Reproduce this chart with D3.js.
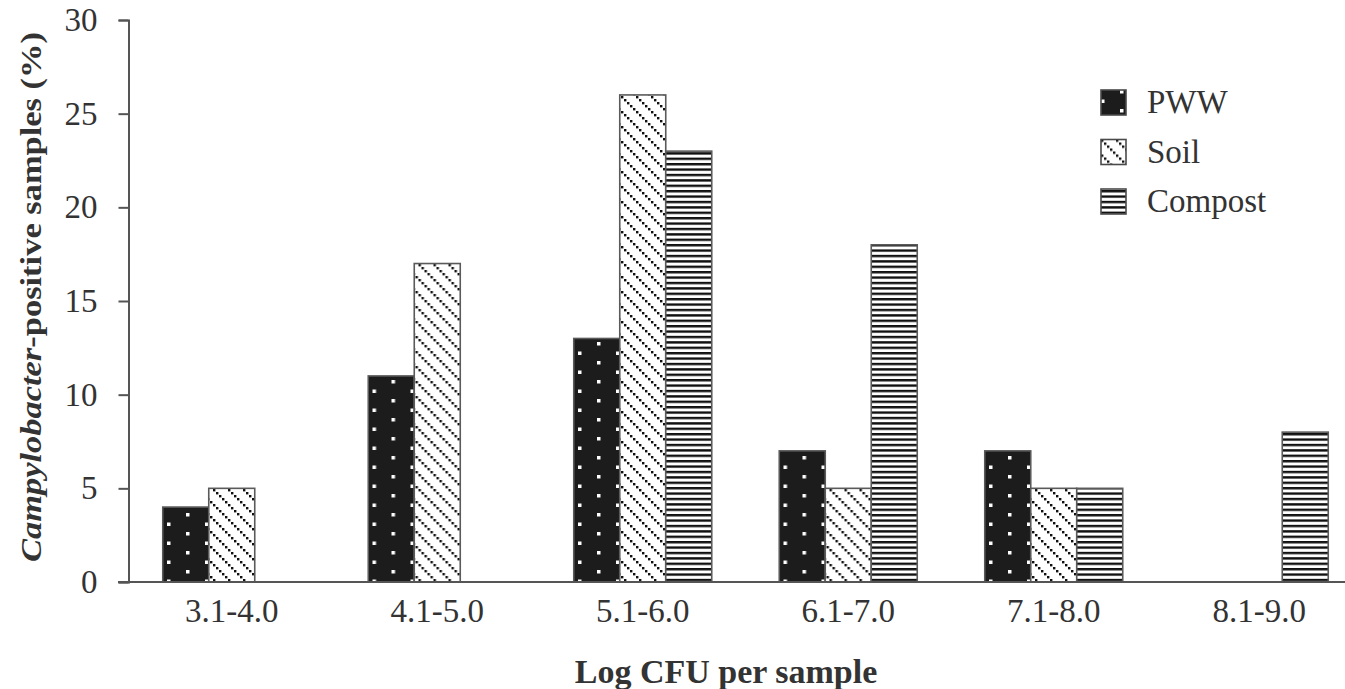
<!DOCTYPE html>
<html>
<head>
<meta charset="utf-8">
<script src="https://cdn.jsdelivr.net/npm/d3@7"></script>
<style>
  body { margin: 0; background: #fff; }
  text { font-family: "Liberation Serif", "Times New Roman", serif; fill: #333; }
</style>
</head>
<body>
<div id="chart"></div>
<script>
const categories = ["3.1-4.0", "4.1-5.0", "5.1-6.0", "6.1-7.0", "7.1-8.0", "8.1-9.0"];
const seriesNames = ["PWW", "Soil", "Compost"];
const pwwValues = [4, 11, 13, 7, 7, 0];
const soilValues = [5, 17, 26, 5, 5, 0];
const compostValues = [0, 0, 23, 18, 5, 8];
const yTicks = [0, 5, 10, 15, 20, 25, 30];

const width = 1345;
const height = 689;
const margin = { top: 20, right: 0, bottom: 107, left: 129 };

const svg = d3.select("#chart")
    .append("svg")
    .attr("width", width)
    .attr("height", height);

// patterns for the three series
const defs = svg.append("defs");

const pww = defs.append("pattern")
    .attr("id", "pat-pww")
    .attr("patternUnits", "userSpaceOnUse")
    .attr("x", 171).attr("y", 0)
    .attr("width", 38).attr("height", 19);
pww.append("rect").attr("width", 38).attr("height", 19).attr("fill", "#1c1c1c");
pww.append("rect").attr("x", 0).attr("y", 0).attr("width", 3.5).attr("height", 3.5).attr("fill", "#fff");
pww.append("rect").attr("x", 19).attr("y", 9.5).attr("width", 3.5).attr("height", 3.5).attr("fill", "#fff");

const soil = defs.append("pattern")
    .attr("id", "pat-soil")
    .attr("patternUnits", "userSpaceOnUse")
    .attr("width", 15).attr("height", 15);
soil.append("rect").attr("width", 15).attr("height", 15).attr("fill", "#fff");
[0, 3, 6, 9, 12].forEach(o => {
    soil.append("rect").attr("x", o).attr("y", o).attr("width", 2.4).attr("height", 2.4).attr("fill", "#111");
});

const compost = defs.append("pattern")
    .attr("id", "pat-compost")
    .attr("patternUnits", "userSpaceOnUse")
    .attr("y", 1)
    .attr("width", 10).attr("height", 5.4);
compost.append("rect").attr("width", 10).attr("height", 5.4).attr("fill", "#fff");
compost.append("rect").attr("y", 0).attr("width", 10).attr("height", 2.4).attr("fill", "#111");

const fills = { PWW: "url(#pat-pww)", Soil: "url(#pat-soil)", Compost: "url(#pat-compost)" };

const data = categories.map((c, i) => ({
    cat: c,
    values: [
        { key: "PWW", value: pwwValues[i] },
        { key: "Soil", value: soilValues[i] },
        { key: "Compost", value: compostValues[i] }
    ]
}));

const x0 = d3.scaleBand()
    .domain(categories)
    .range([margin.left, margin.left + 6 * 205.5])
    .padding(0);

const x1 = d3.scaleBand()
    .domain(seriesNames)
    .range([0, x0.bandwidth()])
    .paddingInner(0)
    .paddingOuter(0.734);

const y = d3.scaleLinear()
    .domain([0, 30])
    .range([height - margin.bottom, margin.top]);

// bars
const groups = svg.append("g")
    .selectAll("g")
    .data(data)
    .join("g")
    .attr("transform", d => `translate(${x0(d.cat)},0)`);

groups.selectAll("rect")
    .data(d => d.values.filter(v => v.value > 0))
    .join("rect")
    .attr("x", d => x1(d.key))
    .attr("y", d => y(d.value))
    .attr("width", x1.bandwidth())
    .attr("height", d => y(0) - y(d.value))
    .attr("fill", d => fills[d.key])
    .attr("stroke", "#5a5a5a")
    .attr("stroke-width", 1.6);

// y axis
const yAxis = svg.append("g")
    .attr("transform", `translate(${margin.left - 0.5},0)`)
    .call(d3.axisLeft(y).tickValues(yTicks).tickSize(10).tickPadding(21));
yAxis.select(".domain").attr("stroke", "#555").attr("stroke-width", 2);
yAxis.selectAll(".tick line").attr("stroke", "#555").attr("stroke-width", 2);
yAxis.selectAll(".tick text")
    .style("font-family", "Liberation Serif, serif")
    .style("font-size", "33px")
    .attr("fill", "#333");

// x axis
const xAxis = svg.append("g")
    .attr("transform", `translate(0,${y(0)})`)
    .call(d3.axisBottom(x0).tickSize(0).tickPadding(17));
xAxis.select(".domain")
    .attr("d", `M${margin.left - 11},0H${width}`)
    .attr("stroke", "#555").attr("stroke-width", 2);
xAxis.selectAll(".tick text")
    .style("font-family", "Liberation Serif, serif")
    .style("font-size", "33px")
    .attr("fill", "#333");

// axis titles
svg.append("text")
    .attr("x", 726)
    .attr("y", 683)
    .attr("text-anchor", "middle")
    .style("font-size", "34px")
    .style("font-weight", "bold")
    .text("Log CFU per sample");

const yTitle = svg.append("text")
    .attr("transform", "translate(41,297) rotate(-90)")
    .attr("text-anchor", "middle")
    .attr("textLength", 530)
    .attr("lengthAdjust", "spacingAndGlyphs")
    .style("font-size", "29px")
    .style("font-weight", "bold");
yTitle.append("tspan").style("font-style", "italic").text("Campylobacter");
yTitle.append("tspan").text("-positive samples (%)");

// legend
const legend = svg.append("g")
    .selectAll("g")
    .data(seriesNames)
    .join("g")
    .attr("transform", (d, i) => `translate(1101,${90 + i * 49.5})`);

legend.append("rect")
    .attr("width", 25)
    .attr("height", 25)
    .attr("fill", d => fills[d])
    .attr("stroke", "#4a4a4a")
    .attr("stroke-width", 1.6);

legend.append("text")
    .attr("x", 46)
    .attr("y", 23)
    .style("font-size", "33px")
    .text(d => d);
</script>
</body>
</html>
